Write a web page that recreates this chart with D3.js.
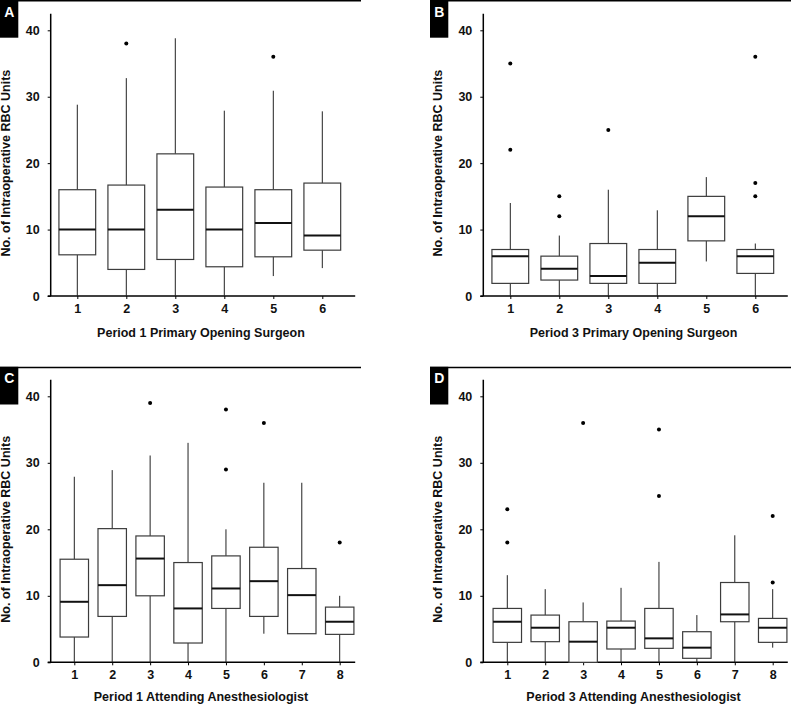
<!DOCTYPE html>
<html><head><meta charset="utf-8">
<script src="https://cdn.jsdelivr.net/npm/d3@7"></script>
<style>body{margin:0;background:#fff}svg text{font-family:"Liberation Sans",Arial,Helvetica,sans-serif;font-weight:bold;fill:#111}</style>
</head><body><svg id="c" width="791" height="705"></svg>
<script>
const cats6 = ['1','2','3','4','5','6'];
const cats8 = ['1','2','3','4','5','6','7','8'];
const yTicks = [0,10,20,30,40];
const yLabel = 'No. of Intraoperative RBC Units';

// Panel A
const q1A = [6.2, 4.0, 5.5, 4.4, 5.9, 6.9];
const medA = [10, 10, 13, 10, 11, 9.1];
const q3A = [16, 16.7, 21.4, 16.4, 16, 17];
const loA = [0, 0, 0, 0, 3, 4.2];
const hiA = [28.8, 32.8, 38.8, 27.9, 30.9, 27.8];
const outA = [[], [38], [], [], [36], []];
// Panel B
const q1B = [1.9, 2.4, 1.9, 1.9, 8.3, 3.4];
const medB = [6, 4.1, 3, 5, 12, 6];
const q3B = [7, 6, 7.9, 7, 15, 7];
const loB = [0, 0, 0, 0, 5.2, 0];
const hiB = [14, 9.1, 16, 12.9, 17.9, 7.9];
const outB = [[35, 22], [15, 12], [25], [], [], [36, 17, 15]];
// Panel C
const q1C = [3.8, 6.9, 10, 2.9, 8.1, 6.9, 4.3, 4.2];
const medC = [9.1, 11.6, 15.6, 8.1, 11.1, 12.2, 10.1, 6.1];
const q3C = [15.5, 20.1, 19, 15, 16, 17.3, 14.1, 8.3];
const loC = [0, 0, 0, 0, 0, 4.3, 4.3, 0];
const hiC = [27.9, 28.9, 31.1, 33, 20, 27, 27, 10];
const outC = [[], [], [39], [], [38, 29], [36], [], [18]];
// Panel D
const q1D = [3, 3.1, 0, 2, 2.1, 0.6, 6.1, 3];
const medD = [6.1, 5.2, 3.1, 5.2, 3.6, 2.2, 7.2, 5.2];
const q3D = [8.1, 7.1, 6.1, 6.2, 8.1, 4.6, 12, 6.6];
const loD = [0, 0, 0, 0, 0, 0, 0, 2.2];
const hiD = [13.1, 11, 9, 11.2, 15.1, 7.1, 19.1, 11];
const outD = [[23, 18], [], [36], [], [35, 25], [], [], [22, 12]];

const panels = [
  {letter:'A', cats:cats6, q1:q1A, med:medA, q3:q3A, lo:loA, hi:hiA, out:outA, xLabel:'Period 1 Primary Opening Surgeon',
   frameX:0, frameW:361, top:0, axX:50.7, y0:296, y40:30.3, first:77.3, last:322.3, lblOff:41.3},
  {letter:'B', cats:cats6, q1:q1B, med:medB, q3:q3B, lo:loB, hi:hiB, out:outB, xLabel:'Period 3 Primary Opening Surgeon',
   frameX:430, frameW:361, top:0, axX:483.3, y0:296, y40:30.3, first:510.3, last:755.3, lblOff:41.3},
  {letter:'C', cats:cats8, q1:q1C, med:medC, q3:q3C, lo:loC, hi:hiC, out:outC, xLabel:'Period 1 Attending Anesthesiologist',
   frameX:0, frameW:361, top:366.8, axX:50.7, y0:662.3, y40:396.3, first:74.3, last:339.7, lblOff:38.3},
  {letter:'D', cats:cats8, q1:q1D, med:medD, q3:q3D, lo:loD, hi:hiD, out:outD, xLabel:'Period 3 Attending Anesthesiologist',
   frameX:430, frameW:361, top:366.8, axX:483.3, y0:662.3, y40:396.3, first:507.3, last:772.7, lblOff:38.3}
];

const svg = d3.select('#c');

panels.forEach(p => {
  const g = svg.append('g');
  // frame top line and label box
  g.append('line').attr('x1', p.frameX).attr('x2', p.frameX + p.frameW)
    .attr('y1', p.top + 0.75).attr('y2', p.top + 0.75).attr('stroke', '#000').attr('stroke-width', 1.5);
  g.append('rect').attr('x', p.frameX).attr('y', p.top).attr('width', 18.3).attr('height', 37.7).attr('fill', '#000');
  g.append('text').attr('x', p.frameX + 9.2).attr('y', p.top + 16.5).attr('text-anchor', 'middle')
    .style('fill', '#fff').style('font-size', '14px').text(p.letter);

  const y = d3.scaleLinear().domain([0, 40]).range([p.y0, p.y40]);
  const x = d3.scalePoint().domain(p.cats).range([p.first, p.last]);
  const bw = x.step() * 0.75;
  const xRight = p.axX + 304.5;

  // y axis
  const yAx = g.append('g').attr('transform', `translate(${p.axX},0)`)
    .call(d3.axisLeft(y).tickValues(yTicks).tickSize(3).tickPadding(8));
  yAx.select('.domain').remove();
  yAx.selectAll('line').attr('stroke', '#000').attr('stroke-width', 1);
  yAx.selectAll('text').style('font-size', '12.5px').style('font-family', '"Liberation Sans",Arial,sans-serif').style('font-weight', 'bold').attr('fill', '#111');
  g.append('line').attr('x1', p.axX).attr('x2', p.axX).attr('y1', y(42.5)).attr('y2', p.y0)
    .attr('stroke', '#000').attr('stroke-width', 1.5);

  // x axis
  const xAx = g.append('g').attr('transform', `translate(0,${p.y0})`)
    .call(d3.axisBottom(x).tickSize(3).tickPadding(5));
  xAx.select('.domain').remove();
  xAx.selectAll('line').attr('stroke', '#000').attr('stroke-width', 1);
  xAx.selectAll('text').style('font-size', '12.5px').style('font-family', '"Liberation Sans",Arial,sans-serif').style('font-weight', 'bold').attr('fill', '#111');
  g.append('line').attr('x1', p.axX - 3).attr('x2', xRight).attr('y1', p.y0).attr('y2', p.y0)
    .attr('stroke', '#000').attr('stroke-width', 1.5);

  // labels
  g.append('text').attr('x', (p.axX + xRight) / 2 - 2).attr('y', p.y0 + p.lblOff).attr('text-anchor', 'middle')
    .style('font-size', '12.5px').text(p.xLabel);
  g.append('text').attr('transform', `translate(${p.axX - 41},${y(20)}) rotate(-90)`).attr('text-anchor', 'middle')
    .style('font-size', '12.5px').text(yLabel);

  // boxes
  p.cats.forEach((c, i) => {
    const cx = x(c);
    const bg = g.append('g');
    bg.append('line').attr('x1', cx).attr('x2', cx).attr('y1', y(p.q3[i])).attr('y2', y(p.hi[i]))
      .attr('stroke', '#222').attr('stroke-width', 1);
    bg.append('line').attr('x1', cx).attr('x2', cx).attr('y1', y(p.q1[i])).attr('y2', y(p.lo[i]))
      .attr('stroke', '#222').attr('stroke-width', 1);
    bg.append('rect').attr('x', cx - bw / 2).attr('y', y(p.q3[i])).attr('width', bw)
      .attr('height', y(p.q1[i]) - y(p.q3[i])).attr('fill', '#fff').attr('stroke', '#3c3c3c').attr('stroke-width', 1.2);
    bg.append('line').attr('x1', cx - bw / 2).attr('x2', cx + bw / 2).attr('y1', y(p.med[i])).attr('y2', y(p.med[i]))
      .attr('stroke', '#111').attr('stroke-width', 2);
    p.out[i].forEach(v => {
      bg.append('circle').attr('cx', cx).attr('cy', y(v)).attr('r', 2).attr('fill', '#000');
    });
  });
});
</script></body></html>
